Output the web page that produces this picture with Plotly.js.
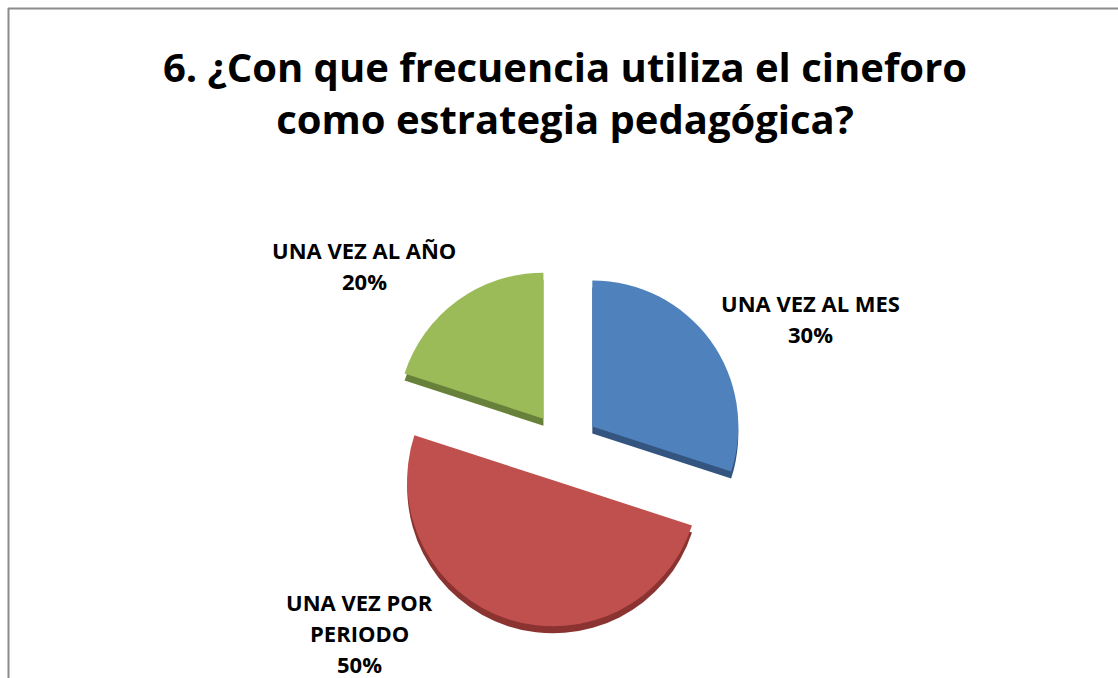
<!DOCTYPE html>
<html>
<head>
<meta charset="utf-8">
<script src="https://cdn.plot.ly/plotly-3.0.1.min.js"></script>
<style>
  html, body { margin: 0; padding: 0; background: #ffffff; overflow: hidden; }
  #chart { width: 1118px; height: 678px; }
</style>
</head>
<body>
<div id="chart"></div>
<script>
// ---- data ----
const titleText = "6. ¿Con que frecuencia utiliza el cineforo<br>como estrategia pedagógica?";
const categories = ["UNA VEZ AL MES", "UNA VEZ POR<br>PERIODO", "UNA VEZ AL AÑO"];
const values = [30, 50, 20];
const colors = ["#4F81BD", "#C0504D", "#9BBB59"];
const edgeColors = ["#34557F", "#8A3331", "#67803A"];

// ---- layout helpers ----
const W = 1118, H = 678;
const px = x => x / W;
const py = y => 1 - y / H;
const pullFrac = 0.24;
const dom = { x0: 383, x1: 745, y0: 266, y1: 628 };
const depth = 7;
const fontFam = "'Open Sans', Lato, sans-serif";

// label anchor positions (pixel) – styling only
const labelPos = [
  { x: 810, y: 303 },
  { x: 359, y: 602 },
  { x: 364, y: 250 }
];
const lineGap = 31;

const total = values.reduce((a, b) => a + b, 0);

const basePie = {
  type: "pie",
  labels: categories,
  values: values,
  sort: false,
  direction: "clockwise",
  rotation: 0,
  pull: values.map(() => pullFrac),
  textinfo: "none",
  hoverinfo: "label+percent",
  showlegend: false
};

const shadowPie = Object.assign({}, basePie, {
  marker: { colors: edgeColors, line: { width: 0 } },
  domain: { x: [px(dom.x0), px(dom.x1)], y: [py(dom.y1 + depth), py(dom.y0 + depth)] },
  hoverinfo: "skip"
});
const mainPie = Object.assign({}, basePie, {
  marker: { colors: colors, line: { width: 0 } },
  domain: { x: [px(dom.x0), px(dom.x1)], y: [py(dom.y1), py(dom.y0)] }
});

const annotations = [];
categories.forEach((c, i) => {
  const lines = c.split("<br>").concat([Math.round(values[i] / total * 100) + "%"]);
  lines.forEach((t, j) => {
    annotations.push({
      text: "<b>" + t + "</b>",
      xref: "paper", yref: "paper",
      x: px(labelPos[i].x), y: py(labelPos[i].y + j * lineGap),
      xanchor: "center", yanchor: "middle",
      showarrow: false,
      font: { family: fontFam, size: 22, color: "#000000" }
    });
  });
});

const layout = {
  width: W, height: H,
  margin: { l: 0, r: 0, t: 0, b: 0 },
  paper_bgcolor: "#ffffff",
  title: {
    text: "<b>" + titleText + "</b>",
    x: px(565), xanchor: "center",
    y: py(82), yanchor: "top", yref: "container",
    font: { family: fontFam, size: 40, color: "#000000" }
  },
  annotations: annotations,
  shapes: [
    { type: "line", xref: "paper", yref: "paper", x0: px(8.5), x1: px(8.5), y0: py(8), y1: 0, line: { color: "#8c8c8c", width: 2 } },
    { type: "line", xref: "paper", yref: "paper", x0: px(8), x1: 1, y0: py(8.5), y1: py(8.5), line: { color: "#8c8c8c", width: 2 } }
  ]
};

Plotly.newPlot("chart", [shadowPie, mainPie], layout, { displayModeBar: false, staticPlot: true });
</script>
</body>
</html>
